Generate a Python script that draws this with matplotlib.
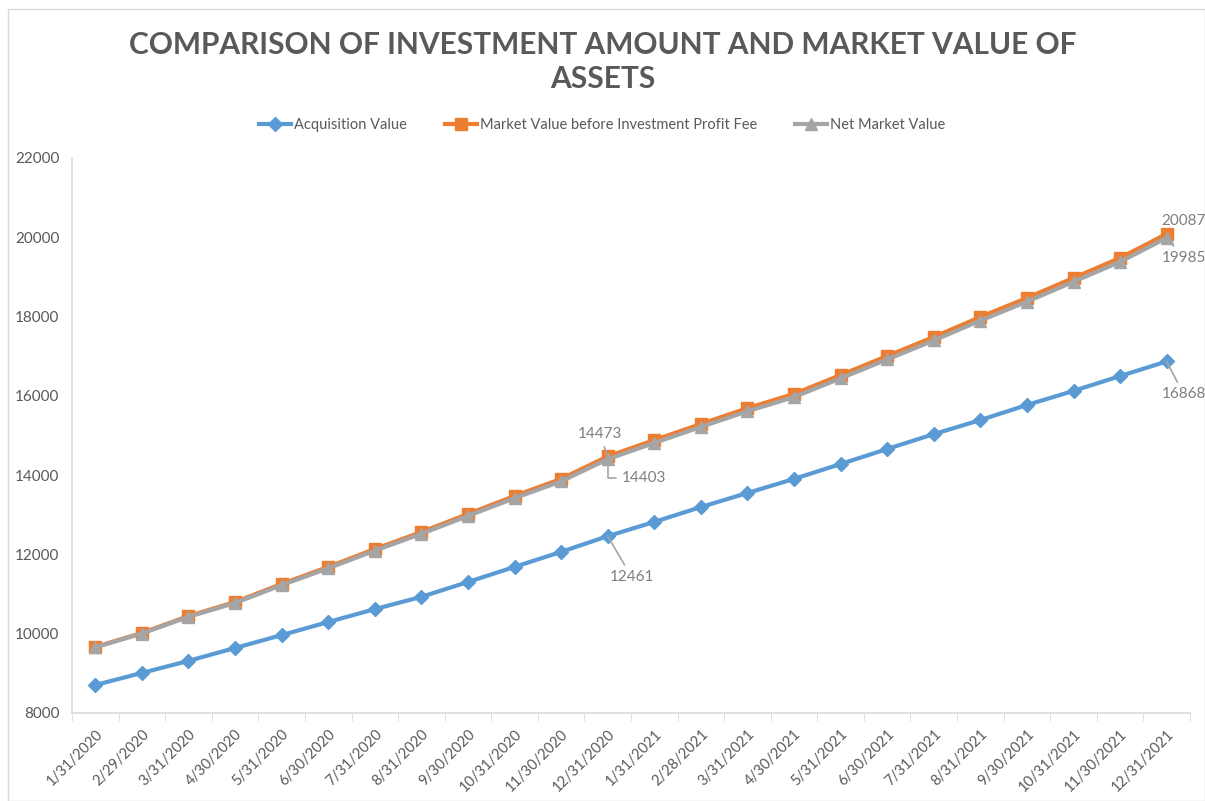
import numpy as np
import matplotlib
matplotlib.use('Agg')
import matplotlib.pyplot as plt
from matplotlib.patches import Rectangle

plt.rcParams['font.family'] = ['Lato', 'DejaVu Sans']

dates = ['1/31/2020', '2/29/2020', '3/31/2020', '4/30/2020', '5/31/2020', '6/30/2020',
         '7/31/2020', '8/31/2020', '9/30/2020', '10/31/2020', '11/30/2020', '12/31/2020',
         '1/31/2021', '2/28/2021', '3/31/2021', '4/30/2021', '5/31/2021', '6/30/2021',
         '7/31/2021', '8/31/2021', '9/30/2021', '10/31/2021', '11/30/2021', '12/31/2021']

acquisition = [8706, 9010, 9315, 9640, 9965, 10295, 10620, 10930, 11305, 11685, 12065, 12461,
               12820, 13195, 13550, 13905, 14280, 14660, 15035, 15390, 15770, 16125, 16500, 16868]
market_before_fee = [9665, 10020, 10445, 10800, 11255, 11685, 12135, 12565, 13020, 13475, 13905, 14473,
                     14885, 15290, 15690, 16050, 16525, 17005, 17485, 17990, 18470, 18975, 19480, 20087]
net_market = [9655, 10005, 10425, 10775, 11225, 11650, 12095, 12520, 12970, 13420, 13843, 14403,
              14813, 15215, 15612, 15970, 16442, 16919, 17397, 17899, 18376, 18879, 19381, 19985]

blue = '#5B9BD5'
orange = '#ED7D31'
grey = '#A5A5A5'
txt = '#595959'
lbl = '#7F7F7F'

fig = plt.figure(figsize=(12.05, 8.01), dpi=100)
# chart border
fig.patches.append(Rectangle((8/1205, 0), 1 - 8/1205, 1 - 9/801, transform=fig.transFigure,
                             fill=False, edgecolor='#D9D9D9', linewidth=1))

ax = fig.add_axes([72/1205, 1 - 713/801, (1190 - 72)/1205, (713 - 158)/801])
x = np.arange(len(dates))

ax.plot(x, acquisition, color=blue, lw=3, marker='D', ms=7, label='Acquisition Value', zorder=3)
ax.plot(x, market_before_fee, color=orange, lw=3, marker='s', ms=8,
        label='Market Value before Investment Profit Fee', zorder=4)
ax.plot(x, net_market, color=grey, lw=3, marker='^', ms=8, label='Net Market Value', zorder=5)

ax.set_xlim(-0.5, len(dates) - 0.5)
ax.set_ylim(8000, 22000)
ax.set_yticks(np.arange(8000, 22001, 2000))
ax.set_xticks(x)
ax.set_xticklabels(dates, rotation=45, ha='right', va='top', rotation_mode='anchor',
                   fontsize=10.5, color=txt)
ax.set_xticks(np.arange(-0.5, len(dates), 1), minor=True)
ax.tick_params(axis='x', which='major', length=0, pad=10)
ax.tick_params(axis='x', which='minor', length=6, color='#D9D9D9', direction='out')
ax.tick_params(axis='y', length=0, labelsize=11, labelcolor=txt, pad=9)

for s in ['top', 'right']:
    ax.spines[s].set_visible(False)
for s in ['left', 'bottom']:
    ax.spines[s].set_color('#D9D9D9')
    ax.spines[s].set_linewidth(1.2)

# data labels
def label(xi, yi, dx, dy, line=True, conn='arc3'):
    props = dict(arrowstyle='-', color=grey, lw=1.2, shrinkA=2, shrinkB=0,
                 connectionstyle=conn) if line else None
    ax.annotate(f'{yi}', xy=(xi, yi), xytext=(dx, dy), textcoords='offset pixels',
                ha='center', va='center', fontsize=11, color=lbl,
                arrowprops=props, annotation_clip=False, zorder=6)

label(11, market_before_fee[11], -8, 22)
label(11, net_market[11], 36, -19, conn='angle,angleA=0,angleB=90,rad=0')
label(11, acquisition[11], 24, -41)
label(23, market_before_fee[23], 17, 13, line=False)
label(23, net_market[23], 17, -20)
label(23, acquisition[23], 17, -33)

fig.text(0.5, 1 - 45/801, 'COMPARISON OF INVESTMENT AMOUNT AND MARKET VALUE OF',
         ha='center', va='center', fontsize=21.5, fontweight='bold', color=txt)
fig.text(0.5, 1 - 79/801, 'ASSETS', ha='center', va='center', fontsize=21.5,
         fontweight='bold', color=txt)

fig.legend(loc='center', bbox_to_anchor=(0.5, 1 - 125/801), ncol=3, frameon=False,
           fontsize=10.5, labelcolor=txt, handlelength=2.2, columnspacing=2.6,
           handletextpad=0.2)

fig.savefig('out.png', dpi=100)
